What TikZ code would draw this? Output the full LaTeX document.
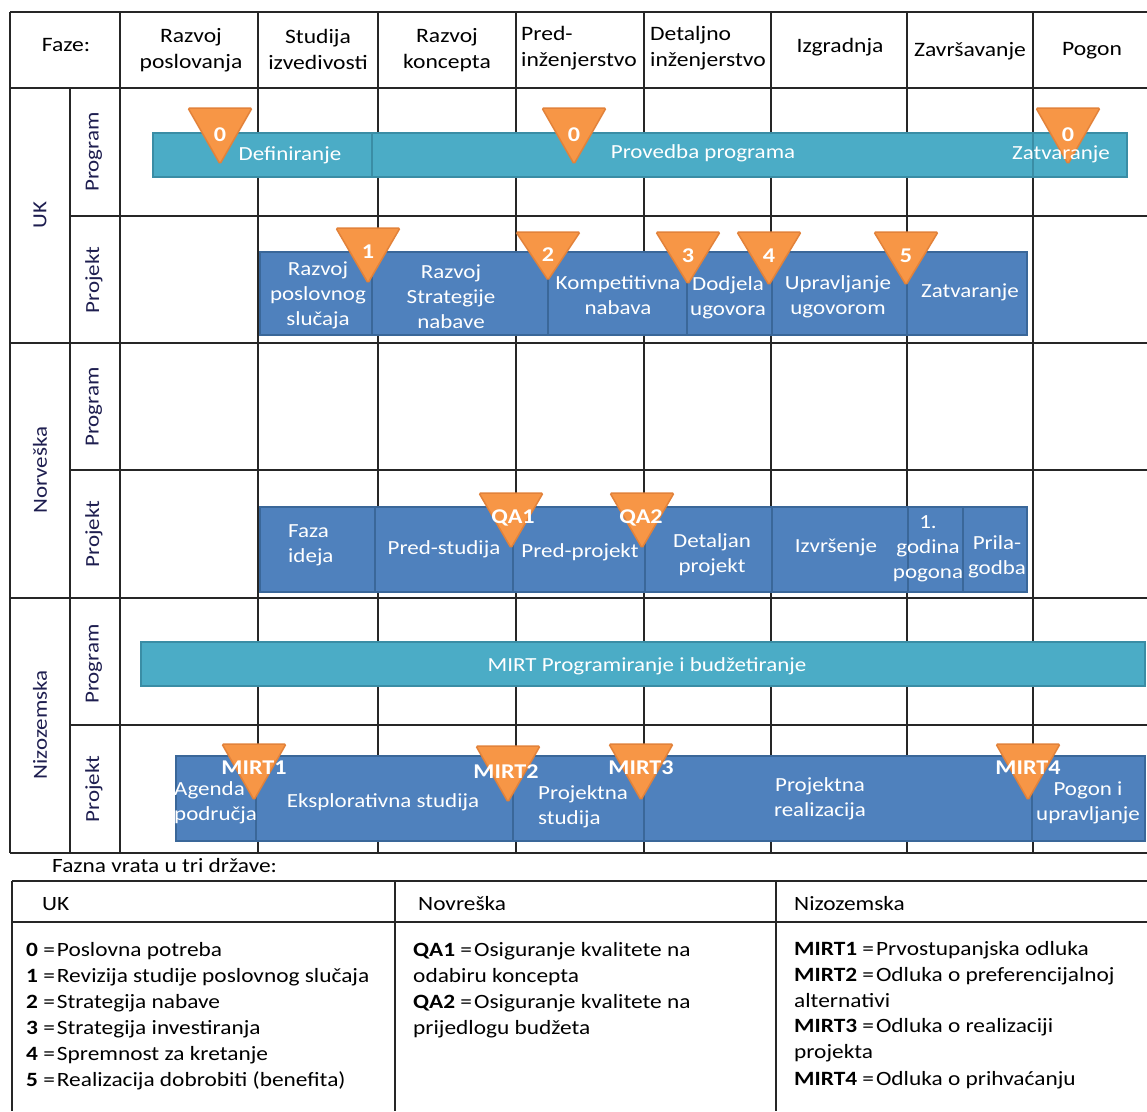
\documentclass[tikz,border=0pt]{standalone}
\usepackage{fontspec}
\setmainfont{Carlito}[FakeStretch=1.15]
\definecolor{tealc}{HTML}{4BACC6}
\definecolor{tealb}{HTML}{3A8DA5}
\definecolor{bluec}{HTML}{4F81BD}
\definecolor{blueb}{HTML}{3A6799}
\definecolor{orangec}{HTML}{F79646}
\definecolor{orangeb}{HTML}{E2823A}
\definecolor{navyc}{HTML}{1E1E50}
\newcommand{\gate}[3]{\draw[gatestyle] ({#1-32},#2) -- ({#1+32},#2) -- (#1,#3) -- cycle;}
\begin{document}
\begin{tikzpicture}[x=1pt,y=-1pt,
  gridl/.style={line width=2pt, draw=black!85},
  tealbar/.style={fill=tealc, draw=tealb, line width=1.5pt},
  bluebar/.style={fill=bluec, draw=blueb, line width=1.5pt},
  gatestyle/.style={fill=orangec, draw=orangeb, line width=1.5pt, rounded corners=1.5pt},
  wt/.style={text=white, font=\fontsize{20}{25}\selectfont, align=center, inner sep=0pt},
  gt/.style={text=white, font=\fontsize{21}{25}\selectfont\bfseries, inner sep=0pt},
  hd/.style={text=black, font=\fontsize{20.5}{26}\selectfont, align=center, inner sep=0pt},
  vl/.style={text=navyc, font=\fontsize{20}{24}\selectfont, rotate=90, inner sep=0pt},
  lg/.style={text=black, font=\fontsize{20.3}{24}\selectfont, anchor=west, inner sep=0pt},
]
\useasboundingbox (0,0) rectangle (1147,1111);
\fill[white] (0,0) rectangle (1147,1111);

% ---------- grid ----------
\foreach \yy in {12,88,343,598,853} \draw[gridl] (10,\yy) -- (1147,\yy);
\foreach \yy in {216,470,725} \draw[gridl] (70,\yy) -- (1147,\yy);
\draw[gridl] (10,12) -- (10,853);
\draw[gridl] (70,88) -- (70,853);
\foreach \xx in {120,258,378,516,644,771,907,1033} \draw[gridl] (\xx,12) -- (\xx,853);

% ---------- header ----------
\node[hd] (hfaze) at (66,45) {Faze:};
\node[hd] (h1) at (191,50) {Razvoj\\poslovanja};
\node[hd] (h2) at (318,49) {Studija\\izvedivosti};
\node[hd] (h3) at (447,50) {Razvoj\\koncepta};
\node[hd, align=left, anchor=west] (h4) at (521,48) {Pred-\\inženjerstvo};
\node[hd, align=left, anchor=west] (h5) at (650,48) {Detaljno\\inženjerstvo};
\node[hd] (h6) at (840,47) {Izgradnja};
\node[hd] (h7) at (970,51) {Završavanje};
\node[hd] (h8) at (1092,51) {Pogon};

% ---------- side labels ----------
\node[vl] (cuk) at (40,215) {UK};
\node[vl] (cno) at (40,470) {Norveška};
\node[vl] (cnl) at (40,725) {Nizozemska};
\node[vl] (l1) at (94,152) {Program};
\node[vl] (l2) at (94,280) {Projekt};
\node[vl] (l3) at (94,407) {Program};
\node[vl] (l4) at (94,534) {Projekt};
\node[vl] (l5) at (94,664) {Program};
\node[vl] (l6) at (94,789) {Projekt};

% ---------- UK program ----------
\draw[tealbar] (153,133) rectangle (372,177);
\draw[tealbar] (372,133) rectangle (1033,177);
\draw[tealbar] (1033,133) rectangle (1127,177);
\gate{220}{108}{164}
\gate{574}{108}{164}
\gate{1068}{108}{164}
\node[gt] (g01) at (220,135) {0};
\node[gt] (g02) at (574,135) {0};
\node[gt] (g03) at (1068,135) {0};
\node[wt] (t1) at (290,155) {Definiranje};
\node[wt] (t2) at (703,153) {Provedba programa};
\node[wt] (t3) at (1061,154) {Zatvaranje};

% ---------- UK projekt ----------
\foreach \a/\b in {260/372,372/548,548/687,687/772,772/907,907/1027}
  \draw[bluebar] (\a,252) rectangle (\b,335);
\gate{368}{228}{283}
\gate{548}{232}{280}
\gate{688}{232}{284}
\gate{769}{232}{285}
\gate{906}{232}{285}
\node[gt] (g1) at (368,252) {1};
\node[gt] (g2) at (548,255) {2};
\node[gt] (g3) at (688,256) {3};
\node[gt] (g4) at (769,256) {4};
\node[gt] (g5) at (906,256) {5};
\node[wt] (u1) at (318,295) {Razvoj\\poslovnog\\slučaja};
\node[wt] (u2) at (451,297) {Razvoj\\Strategije\\nabave};
\node[wt] (u3) at (618,295) {Kompetitivna\\nabava};
\node[wt] (u4) at (728,298) {Dodjela\\ugovora};
\node[wt] (u5) at (838,297) {Upravljanje\\ugovorom};
\node[wt] (u6) at (970,292) {Zatvaranje};

% ---------- Norway projekt ----------
\foreach \a/\b in {260/375,375/513,513/645,645/772,772/908,908/963,963/1027}
  \draw[bluebar] (\a,507) rectangle (\b,592);
\gate{511}{493}{548}
\gate{642}{493}{548}
\node[gt] (qa1) at (513,518) {QA1};
\node[gt] (qa2) at (641,518) {QA2};
\node[wt, align=left, anchor=west] (n1) at (288,545) {Faza\\ideja};
\node[wt] (n2) at (444,549) {Pred-studija};
\node[wt] (n3) at (580,552) {Pred-projekt};
\node[wt] (n4) at (712,555) {Detaljan\\projekt};
\node[wt] (n5) at (836,547) {Izvršenje};
\node[wt] (n6) at (928,549) {1.\\godina\\pogona};
\node[wt] (n7) at (997,557) {Prila-\\godba};

% ---------- Netherlands program ----------
\draw[tealbar] (141,642) rectangle (1145,686);
\node[wt] (m0) at (647,666) {MIRT Programiranje i budžetiranje};

% ---------- Netherlands projekt ----------
\foreach \a/\b in {176/256,256/513,513/644,644/1032,1032/1145}
  \draw[bluebar] (\a,756) rectangle (\b,841);
\gate{254}{744}{800}
\gate{508}{746}{802}
\gate{641}{744}{800}
\gate{1028}{744}{800}
\node[wt, align=left, anchor=west] (m1) at (174,803) {Agenda\\područja};
\node[wt] (m2) at (383,802) {Eksplorativna studija};
\node[wt, align=left, anchor=west] (m3) at (538,807) {Projektna\\studija};
\node[wt] (m4) at (820,799) {Projektna\\realizacija};
\node[wt] (m5) at (1088,803) {Pogon i\\upravljanje};
\node[gt] (mi1) at (254,768) {MIRT1};
\node[gt] (mi2) at (506,772) {MIRT2};
\node[gt] (mi3) at (641,768) {MIRT3};
\node[gt] (mi4) at (1028,768) {MIRT4};

% ---------- legend ----------
\node[lg] (ltitle) at (52,866) {Fazna vrata u tri države:};
\draw[gridl] (12,881) -- (1147,881);
\draw[gridl] (12,922) -- (1147,922);
\foreach \xx in {12,395,776} \draw[gridl] (\xx,881) -- (\xx,1111);
\node[lg] (lh1) at (42,904) {UK};
\node[lg] (lh2) at (418,904) {Novreška};
\node[lg] (lh3) at (794,904) {Nizozemska};

\node[lg] (a0) at (26,951) {\textbf{0} =\hspace{2pt}Poslovna potreba};
\node[lg] (a1) at (26,977) {\textbf{1} =\hspace{2pt}Revizija studije poslovnog slučaja};
\node[lg] (a2) at (26,1003) {\textbf{2} =\hspace{2pt}Strategija nabave};
\node[lg] (a3) at (26,1029) {\textbf{3} =\hspace{2pt}Strategija investiranja};
\node[lg] (a4) at (26,1055) {\textbf{4} =\hspace{2pt}Spremnost za kretanje};
\node[lg] (a5) at (26,1081) {\textbf{5} =\hspace{2pt}Realizacija dobrobiti (benefita)};

\node[lg] (b1) at (413,951) {\textbf{QA1} =\hspace{2pt}Osiguranje kvalitete na};
\node[lg] (b2) at (413,977) {odabiru koncepta};
\node[lg] (b3) at (413,1003) {\textbf{QA2} =\hspace{2pt}Osiguranje kvalitete na};
\node[lg] (b4) at (413,1029) {prijedlogu budžeta};

\node[lg] (c1) at (794,950) {\textbf{MIRT1} =\hspace{2pt}Prvostupanjska odluka};
\node[lg] (c2) at (794,976) {\textbf{MIRT2} =\hspace{2pt}Odluka o preferencijalnoj};
\node[lg] (c3) at (794,1001) {alternativi};
\node[lg] (c4) at (794,1027) {\textbf{MIRT3} =\hspace{2pt}Odluka o realizaciji};
\node[lg] (c5) at (794,1053) {projekta};
\node[lg] (c6) at (794,1080) {\textbf{MIRT4} =\hspace{2pt}Odluka o prihvaćanju};
\end{tikzpicture}
\end{document}
